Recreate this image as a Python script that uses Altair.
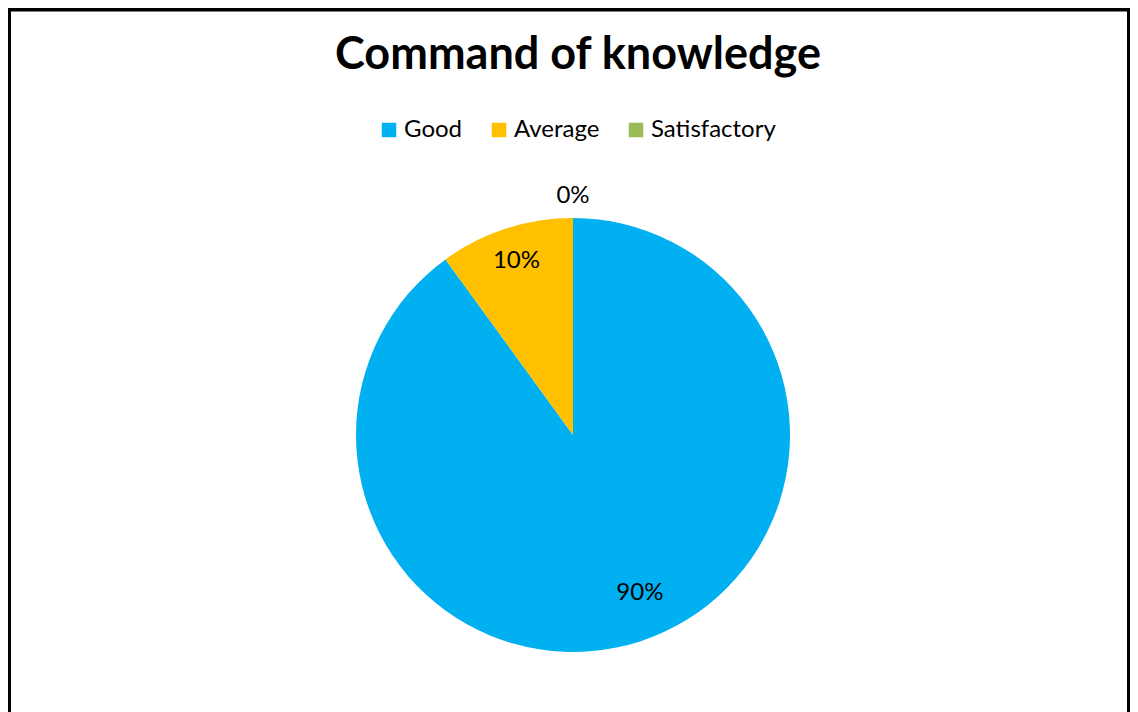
import altair as alt
import pandas as pd

categories = ["Good", "Average", "Satisfactory"]
shares = [90, 10, 0]
labels = ["90%", "10%", "0%"]
colors = ["#00B0F0", "#FFC000", "#9BBB59"]

df = pd.DataFrame({"category": categories, "share": shares, "label": labels,
                   "idx": list(range(len(categories)))})

FONT = "Lato"
CX, CY, R = 565, 427, 217
W, H = 1122, 704

pie = alt.Chart(df).mark_arc(outerRadius=R).encode(
    theta=alt.Theta("share:Q", stack=True),
    order=alt.Order("idx:Q"),
    x=alt.value(CX), y=alt.value(CY),
    color=alt.Color(
        "category:N",
        scale=alt.Scale(domain=categories, range=colors),
        sort=categories,
        legend=alt.Legend(
            title=None, orient="none", direction="horizontal",
            legendX=369, legendY=110,
            symbolType="square", symbolSize=210, symbolStrokeWidth=0,
            symbolOpacity=1,
            labelFont=FONT, labelFontSize=24, labelColor="#000000",
            labelOffset=3, columnPadding=24,
        ),
    ),
)

text = alt.Chart(df).transform_window(
    cum="sum(share)", sort=[alt.SortField("idx")]
).transform_joinaggregate(
    total="sum(share)"
).transform_calculate(
    mid="(datum.cum - datum.share / 2) / datum.total * 2 * PI + (datum.category == 'Good' ? -0.085 : 0)",
    r="datum.category == 'Satisfactory' ? 239 : (datum.category == 'Good' ? 172 : 183)",
).mark_text(font=FONT, fontSize=24, color="#000000", baseline="middle").encode(
    x=alt.value(CX), y=alt.value(CY),
    theta=alt.Theta("mid:Q", scale=None),
    radius=alt.Radius("r:Q", scale=None),
    text="label:N",
)

title = alt.Chart(pd.DataFrame({"t": ["Command of knowledge"]})).mark_text(
    font=FONT, fontSize=45, fontWeight="bold", color="#000000",
    baseline="alphabetic", align="center"
).encode(x=alt.value(570), y=alt.value(61), text="t:N")

border = alt.Chart(pd.DataFrame({"a": [0]})).mark_rect(
    fill=None, stroke="#000000", strokeWidth=4, filled=False
).encode(x=alt.value(1), x2=alt.value(W - 1), y=alt.value(1.5), y2=alt.value(H + 40))

chart = alt.layer(pie, text, title, border).properties(
    width=W, height=H, padding=0,
    autosize=alt.AutoSizeParams(type="none"),
    background="#ffffff",
).configure_view(stroke=None)

chart.save("out.html", embed_options={"renderer": "svg", "actions": False})
